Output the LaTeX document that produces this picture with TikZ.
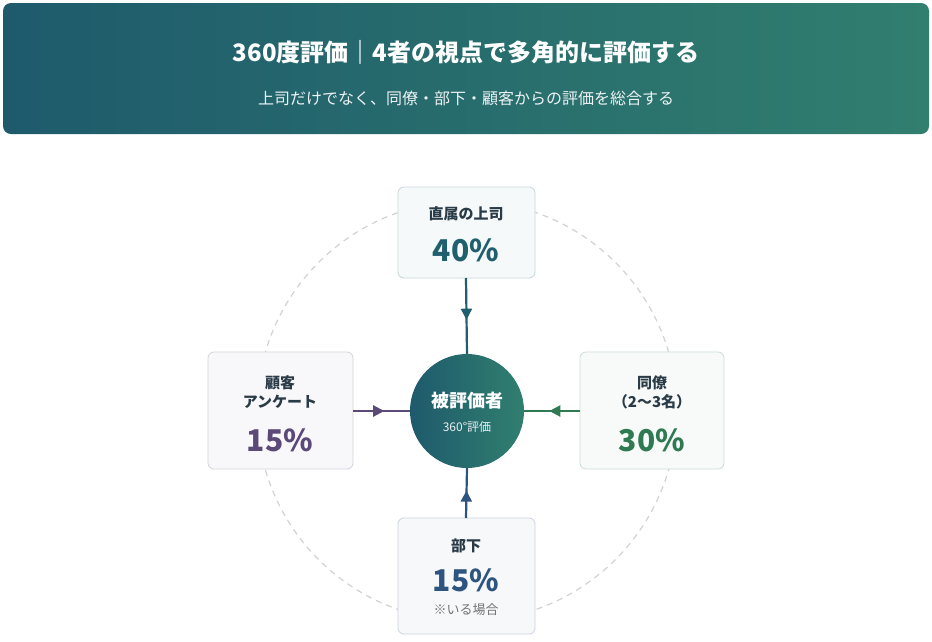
\documentclass[tikz,border=0pt]{standalone}
\usepackage{fontspec}
\setmainfont{Noto Sans CJK JP}
\usetikzlibrary{arrows.meta,decorations.markings}
\definecolor{hdA}{HTML}{1E5A6C}
\definecolor{hdB}{HTML}{317F6F}
\definecolor{txt}{HTML}{2A3B48}
\definecolor{cTop}{HTML}{1F5F6E}
\definecolor{cLeft}{HTML}{5B4A78}
\definecolor{cRight}{HTML}{2F7A52}
\definecolor{cBot}{HTML}{2D5580}
\tikzset{
  fs/.style={font=\fontsize{#1}{#1}\selectfont},
  card/.style={draw=#1!25, fill=#1!4, rounded corners=6pt, line width=0.8pt},
  conn/.style={draw=#1, line width=2.2pt, postaction={decorate}, decoration={markings, mark=at position 0.55 with {\arrow[#1]{Triangle[length=11pt,width=11pt]}}}},
}
\begin{document}
\begin{tikzpicture}[x=1pt,y=-1pt]
\useasboundingbox (0,0) rectangle (932,641);
\fill[white] (0,0) rectangle (932,641);
\shade[left color=hdA, right color=hdB, rounded corners=8pt] (3,3) rectangle (929,134);
\node[text=white, fs=24] (title) at (466,52) {\bfseries 360度評価｜4者の視点で多角的に評価する};
\node[text=white!92!hdA, fs=16] (sub) at (466,98) {上司だけでなく、同僚・部下・顧客からの評価を総合する};
\draw[gray!35, dashed, dash pattern=on 6pt off 5pt, line width=1.2pt] (467,411) circle (210);
% cards
\path[card=cTop] (398,187) rectangle (535,278);
\node[text=txt, fs=15] (tl) at (466,214) {\bfseries 直属の上司};
\node[text=cTop, fs=30] (tp) at (466,250) {\bfseries 40\%};
\path[card=cLeft] (208,352) rectangle (353,469);
\node[text=txt, fs=15, align=center] (ll) at (280,392) {\bfseries 顧客\\[4pt]\bfseries アンケート};
\node[text=cLeft, fs=30] (lp) at (280,440) {\bfseries 15\%};
\path[card=cRight] (580,352) rectangle (724,469);
\node[text=txt, fs=15, align=center] (rl) at (652,392) {\bfseries 同僚\\[4pt]\bfseries （2〜3名）};
\node[text=cRight, fs=30] (rp) at (652,440) {\bfseries 30\%};
\path[card=cBot] (398,518) rectangle (535,634);
\node[text=txt, fs=15] (bl) at (466,546) {\bfseries 部下};
\node[text=cBot, fs=30] (bp) at (466,580) {\bfseries 15\%};
\node[text=gray!90!black, fs=13] (bn) at (466,610) {※いる場合};
% coordinates
\coordinate (tb) at (466,278);
\coordinate (lb) at (353,411);
\coordinate (rb) at (580,411);
\coordinate (bb) at (466,518);
% center
\shade[left color=hdA, right color=hdB] (467,411) circle (57);
\node[circle, minimum size=114pt, inner sep=0] (c) at (467,411) {};
\node[text=white, fs=18] (ct) at (467,401) {\bfseries 被評価者};
\node[text=white!90!hdA, fs=12] (cs) at (467,427) {360°評価};
\draw[conn=cTop] (tb) -- (c.north);
\draw[conn=cLeft] (lb) -- (c.west);
\draw[conn=cRight] (rb) -- (c.east);
\draw[conn=cBot] (bb) -- (c.south);
\end{tikzpicture}
\end{document}
